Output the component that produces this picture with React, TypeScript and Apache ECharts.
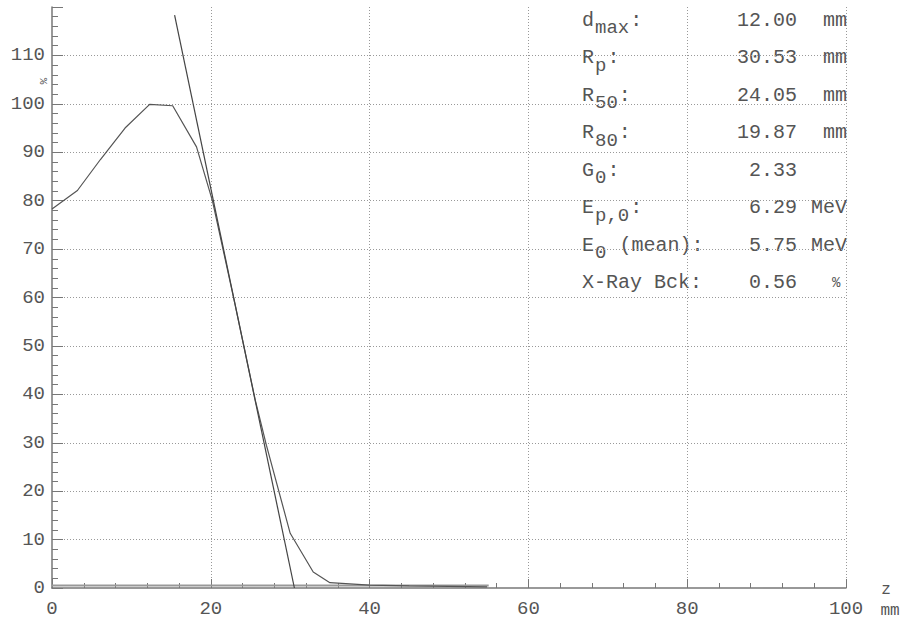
import React, { useEffect, useRef } from "react";
import * as echarts from "echarts";

// Depth dose curve (z in mm, dose in %)
const depth = [0, 3.2, 6.1, 9.2, 12.3, 15.2, 18.2, 20.2, 23.0, 25.6, 27.0, 30.0, 32.9, 35.0, 40.0, 45.0, 50.0, 54.8];
const dose = [78.3, 82.1, 88.5, 95.0, 99.9, 99.6, 91.1, 80.0, 59.0, 38.8, 29.5, 11.3, 3.3, 1.1, 0.6, 0.45, 0.35, 0.25];

// Tangent through the steepest part of the fall-off
const tangentX = [15.44, 30.53];
const tangentY = [118.3, 0];

// X-ray background level
const bckX = [0, 55];
const bckY = [0.5, 0.5];

// Axes
const xTicks = [0, 20, 40, 60, 80, 100];
const yMax = 120;
const yStep = 10;

// Parameter table
const paramMain = ["d", "R", "R", "R", "G", "E", "E", "X-Ray Bck:"];
const paramSub = ["max", "p", "50", "80", "0", "p,0", "0", ""];
const paramSuffix = [":", ":", ":", ":", ":", ":", " (mean):", ""];
const paramValues = ["12.00", "30.53", "24.05", "19.87", "2.33", "6.29", "5.75", "0.56"];
const paramUnits = ["mm", "mm", "mm", "mm", "", "MeV", "MeV", "%"];

const FONT = "Liberation Mono";
const TXT = "#555";

export default function App() {
  const ref = useRef<HTMLDivElement>(null);

  useEffect(() => {
    if (!ref.current) return;
    const chart = echarts.init(ref.current, undefined, { renderer: "svg" });

    const graphics: any[] = [];
    const rowTop = 20;
    const rowStep = 37.5;
    const labelX = 582;
    const subX = 595;
    const subAdv = 11.4;
    paramMain.forEach((m, i) => {
      const cy = rowTop + i * rowStep;
      graphics.push({
        type: "text",
        style: { text: m, x: labelX, y: cy, font: `20px "${FONT}"`, fill: TXT, align: "left", verticalAlign: "middle" },
      });
      const sub = paramSub[i];
      let afterX = labelX + 12 * m.length;
      if (sub) {
        graphics.push({
          type: "text",
          style: { text: sub, x: subX, y: cy + 8, font: `19px "${FONT}"`, fill: TXT, align: "left", verticalAlign: "middle" },
        });
        afterX = subX + sub.length * subAdv + 1;
      }
      if (paramSuffix[i]) {
        graphics.push({
          type: "text",
          style: { text: paramSuffix[i], x: afterX, y: cy, font: `20px "${FONT}"`, fill: TXT, align: "left", verticalAlign: "middle" },
        });
      }
      graphics.push({
        type: "text",
        style: { text: paramValues[i], x: 797, y: cy, font: `20px "${FONT}"`, fill: TXT, align: "right", verticalAlign: "middle" },
      });
      const u = paramUnits[i];
      if (u) {
        const isPct = u === "%";
        graphics.push({
          type: "text",
          style: {
            text: u,
            x: isPct ? 832 : 847 - 12 * u.length,
            y: cy,
            font: `${isPct ? 14 : 20}px "${FONT}"`,
            fill: TXT,
            align: "left",
            verticalAlign: "middle",
          },
        });
      }
    });

    // axis unit labels
    graphics.push({
      type: "text",
      rotation: -Math.PI / 2,
      x: 43,
      y: 81,
      style: { text: "%", x: 0, y: 0, font: `11px "${FONT}"`, fill: TXT, align: "center", verticalAlign: "middle" },
    });
    graphics.push({
      type: "text",
      style: { text: "z", x: 886, y: 590, font: `16px "${FONT}"`, fill: TXT, align: "center", verticalAlign: "middle" },
    });
    graphics.push({
      type: "text",
      style: { text: "mm", x: 890, y: 611, font: `16px "${FONT}"`, fill: TXT, align: "center", verticalAlign: "middle" },
    });

    chart.setOption({
      animation: false,
      backgroundColor: "#fff",
      grid: { left: 52, right: 63, top: 7, bottom: 35 },
      xAxis: {
        type: "value",
        min: xTicks[0],
        max: xTicks[xTicks.length - 1],
        interval: xTicks[1] - xTicks[0],
        axisLine: { show: true, onZero: false, lineStyle: { color: "#777", width: 1.5 } },
        axisTick: { show: true, inside: true, length: 9, lineStyle: { color: "#777" } },
        minorTick: { show: true, splitNumber: 5, length: 5, lineStyle: { color: "#777" } },
        axisLabel: { margin: 11, fontFamily: FONT, fontSize: 19, color: TXT },
        splitLine: { show: true, showMinLine: false, lineStyle: { type: [1, 2], color: "#999", width: 1 } },
      },
      yAxis: {
        type: "value",
        min: 0,
        max: yMax,
        interval: yStep,
        axisLine: { show: true, onZero: false, lineStyle: { color: "#777", width: 1.5 } },
        axisTick: { show: true, inside: true, length: 11, lineStyle: { color: "#777" } },
        minorTick: { show: true, splitNumber: 5, length: 6, lineStyle: { color: "#777" } },
        axisLabel: {
          margin: 7,
          fontFamily: FONT,
          fontSize: 19,
          color: TXT,
          formatter: (v: number) => (v >= yMax ? "" : String(v)),
        },
        splitLine: { show: true, showMinLine: false, showMaxLine: false, lineStyle: { type: [1, 2], color: "#999", width: 1 } },
      },
      series: [
        {
          type: "line",
          data: bckX.map((x, i) => [x, bckY[i]]),
          symbol: "none",
          lineStyle: { color: "#999", width: 2 },
          silent: true,
        },
        {
          type: "line",
          data: depth.map((x, i) => [x, dose[i]]),
          symbol: "none",
          lineStyle: { color: "#555", width: 1.2 },
        },
        {
          type: "line",
          data: tangentX.map((x, i) => [x, tangentY[i]]),
          symbol: "none",
          lineStyle: { color: "#444", width: 1.2 },
        },
      ],
      graphic: graphics,
    });

    return () => chart.dispose();
  }, []);

  return <div ref={ref} style={{ width: 909, height: 623, position: "absolute", left: 0, top: 0 }} />;
}
